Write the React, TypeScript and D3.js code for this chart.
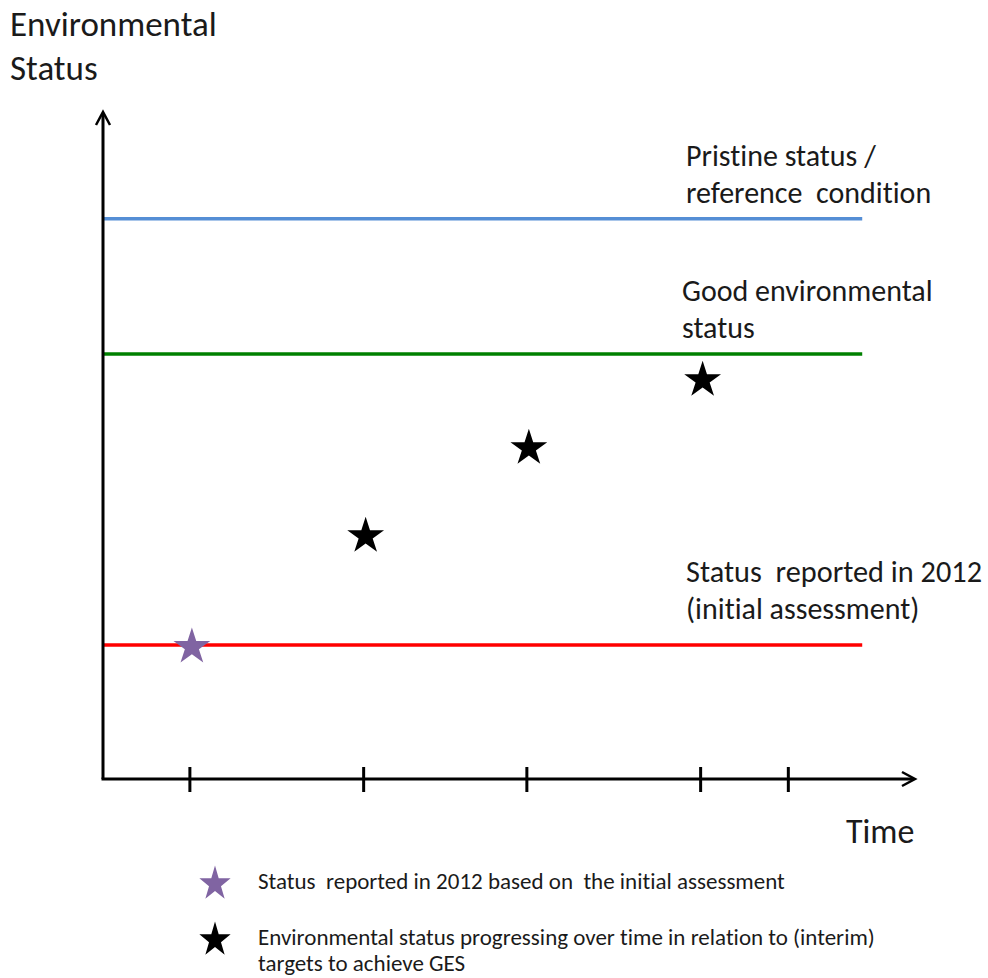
import { useEffect, useRef } from "react"
import * as d3 from "d3"

// time ticks on the x axis (arbitrary time units)
const timeTicks = [10.7, 32.1, 52.2, 73.6, 84.4]

// reference levels (status units 0..100)
const levelNames = ["Pristine status / reference condition", "Good environmental status", "Status reported in 2012 (initial assessment)"]
const levelValues = [84, 63.7, 20.1]
const levelColors = ["#558ed5", "#008000", "#ff0000"]
const levelLabelLines = [
    ["Pristine status /", "reference  condition"],
    ["Good environmental", "status"],
    ["Status  reported in 2012", "(initial assessment)"],
]

// status points
const reportedTime = [10.7]
const reportedValue = [20.1]
const progressTime = [32.1, 52.2, 73.6]
const progressValue = [36.7, 49.9, 60.1]

const legendLabels = [
    ["Status  reported in 2012 based on  the initial assessment"],
    ["Environmental status progressing over time in relation to (interim)", "targets to achieve GES"],
]

export default function App() {
    const svgRef = useRef(null)

    useEffect(() => {
        document.body.style.margin = "0"
        document.documentElement.style.overflow = "hidden"

        const width = 988
        const height = 978
        const font = "Carlito, Calibri, 'Open Sans', sans-serif"
        const svg = d3.select(svgRef.current)
        svg.selectAll("*").remove()
        svg.attr("width", width).attr("height", height)
            .style("font-variant-ligatures", "none")

        const x = d3.scaleLinear().domain([0, 100]).range([103, 915])
        const y = d3.scaleLinear().domain([0, 100]).range([779, 112])
        const lineEnd = 93.5

        // level lines
        levelValues.forEach((v, i) => {
            svg.append("line")
                .attr("x1", x(0)).attr("x2", x(lineEnd))
                .attr("y1", y(v)).attr("y2", y(v))
                .attr("stroke", levelColors[i])
                .attr("stroke-width", 3.5)
        })

        // axes
        const axisColor = "#000"
        svg.append("line")
            .attr("x1", x(0)).attr("x2", x(0))
            .attr("y1", y(0)).attr("y2", y(100) + 1)
            .attr("stroke", axisColor).attr("stroke-width", 3)
        svg.append("path")
            .attr("d", `M${x(0) - 7},${y(100) + 13} L${x(0)},${y(100)} L${x(0) + 7},${y(100) + 13}`)
            .attr("fill", "none").attr("stroke", axisColor).attr("stroke-width", 2.5)
        svg.append("line")
            .attr("x1", x(0) - 1.5).attr("x2", x(100) - 1)
            .attr("y1", y(0)).attr("y2", y(0))
            .attr("stroke", axisColor).attr("stroke-width", 3)
        svg.append("path")
            .attr("d", `M${x(100) - 13},${y(0) - 7} L${x(100)},${y(0)} L${x(100) - 13},${y(0) + 7}`)
            .attr("fill", "none").attr("stroke", axisColor).attr("stroke-width", 2.5)

        svg.selectAll(".tick")
            .data(timeTicks)
            .enter()
            .append("line")
            .attr("x1", (d) => x(d)).attr("x2", (d) => x(d))
            .attr("y1", y(0) - 12).attr("y2", y(0) + 13)
            .attr("stroke", axisColor).attr("stroke-width", 3)

        // axis titles
        const yTitle = svg.append("text")
            .attr("font-family", font).attr("font-size", 35).attr("fill", "#1a1a1a")
        yTitle.append("tspan").attr("x", 10).attr("y", 36).text("Environmental")
        yTitle.append("tspan").attr("x", 10).attr("y", 80).text("Status")

        svg.append("text")
            .attr("x", 846).attr("y", 843)
            .attr("font-family", font).attr("font-size", 34).attr("fill", "#1a1a1a")
            .text("Time")

        // level labels
        const labelPos = [[686, 166], [682, 301], [686, 582]]
        levelLabelLines.forEach((lines, i) => {
            const t = svg.append("text")
                .attr("font-family", font).attr("font-size", 30).attr("fill", "#1a1a1a")
                .attr("aria-label", levelNames[i])
            lines.forEach((ln, j) => {
                const ts = t.append("tspan")
                    .attr("x", labelPos[i][0])
                    .attr("y", labelPos[i][1] + j * 37)
                    .style("white-space", "pre")
                    .text(ln)
                if (i === 2 && j === 0) ts.attr("textLength", 296).attr("lengthAdjust", "spacingAndGlyphs")
            })
        })

        // stars
        const star = d3.symbol().type(d3.symbolStar).size(420)
        svg.selectAll(".reported")
            .data(reportedTime.map((t, i) => ({ t, v: reportedValue[i] })))
            .enter()
            .append("path")
            .attr("d", star)
            .attr("transform", (d) => `translate(${x(d.t) + 2},${y(d.v) + 2})`)
            .attr("fill", "#8064a2")

        svg.selectAll(".progress")
            .data(progressTime.map((t, i) => ({ t, v: progressValue[i] })))
            .enter()
            .append("path")
            .attr("d", star)
            .attr("transform", (d) => `translate(${x(d.t) + 2},${y(d.v) + 2})`)
            .attr("fill", "#000")

        // legend
        const legendColors = ["#8064a2", "#000"]
        const legendY = [884, 940]
        legendLabels.forEach((lines, i) => {
            svg.append("path")
                .attr("d", star)
                .attr("transform", `translate(215,${legendY[i]}) scale(0.85,0.95)`)
                .attr("fill", legendColors[i])
            const t = svg.append("text")
                .attr("font-family", font).attr("font-size", 23).attr("fill", "#1a1a1a")
            lines.forEach((ln, j) => {
                t.append("tspan")
                    .attr("x", 258)
                    .attr("y", legendY[i] + 5 + j * 26)
                    .style("white-space", "pre")
                    .text(ln)
            })
        })
    }, [])

    return (
        <div style={{ width: 988, height: 978 }}>
            <svg ref={svgRef} style={{ display: "block" }}></svg>
        </div>
    )
}
